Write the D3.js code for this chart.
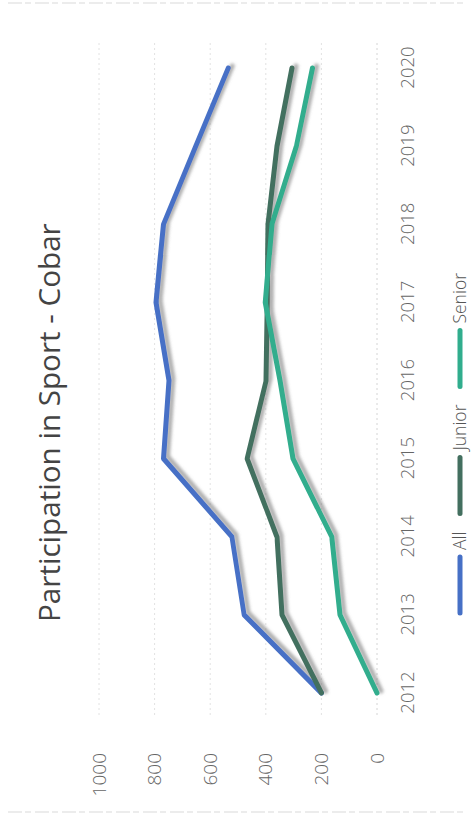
<!DOCTYPE html>
<html>
<head>
<meta charset="utf-8">
<script src="https://cdn.jsdelivr.net/npm/d3@7"></script>
<style>
  html, body { margin: 0; padding: 0; background: #fff; }
  svg { display: block; }
  text { font-family: "Open Sans", "Noto Sans", sans-serif; }
</style>
</head>
<body>
<svg id="chart" width="471" height="815"></svg>
<script>
// Participation counts per year
const years = [2012, 2013, 2014, 2015, 2016, 2017, 2018, 2019, 2020];
const allValues    = [200, 478, 522, 768, 748, 795, 768, 652, 535];
const juniorValues = [200, 342, 360, 467, 399, 395, 392, 360, 306];
const seniorValues = [0, 133, 163, 302, 349, 402, 378, 290, 232];
const seriesNames  = ["All", "Junior", "Senior"];
const seriesColors = ["#4670c6", "#436f5f", "#31ad8d"];
const valueTicks   = [0, 200, 400, 600, 800, 1000];
const titleText    = "Participation in Sport - Cobar";

const series = seriesNames.map((name, i) => ({
  name,
  color: seriesColors[i],
  values: [allValues, juniorValues, seniorValues][i].map((v, j) => ({ year: years[j], value: v }))
}));

const W = 815, H = 471; // chart drawn in its own frame, then turned a quarter turn
const svg = d3.select("#chart");

const defs = svg.append("defs");
const shadow = defs.append("filter").attr("id", "lineShadow")
  .attr("x", "-10%").attr("y", "-10%").attr("width", "120%").attr("height", "120%");
shadow.append("feDropShadow")
  .attr("dx", 2).attr("dy", 4).attr("stdDeviation", 1.8)
  .attr("flood-color", "#6f6f6f").attr("flood-opacity", 0.55);

// page edge dashes
[3, 812].forEach(y => {
  svg.append("line")
    .attr("x1", 8).attr("x2", 466).attr("y1", y).attr("y2", y)
    .attr("stroke", "#dadada").attr("stroke-width", 1.2)
    .attr("stroke-dasharray", "14 3 6 4");
});

const g = svg.append("g").attr("transform", `translate(0,${W}) rotate(-90)`);

const x = d3.scaleLinear().domain([2012, 2020]).range([122, 747]);
const y = d3.scaleLinear().domain([0, 1000]).range([377, 99]);

// gridlines
g.append("g").selectAll("line").data(valueTicks).join("line")
  .attr("x1", 100).attr("x2", 772)
  .attr("y1", d => y(d)).attr("y2", d => y(d))
  .attr("stroke", d => d === 0 ? "#d4d4d4" : "#e2e2e2")
  .attr("stroke-width", 1)
  .attr("stroke-dasharray", "2 3");

// value axis
const yAxis = g.append("g").attr("transform", "translate(62,0)")
  .call(d3.axisLeft(y).tickValues(valueTicks).tickFormat(d3.format("d")).tickSize(0).tickPadding(0));
yAxis.select(".domain").remove();
yAxis.selectAll("text")
  .attr("font-size", 19).attr("font-weight", 300)
  .attr("fill", "#666").style("font-family", '"Open Sans", sans-serif');

// year axis
const xAxis = g.append("g").attr("transform", "translate(0,377)")
  .call(d3.axisBottom(x).tickValues(years).tickFormat(d3.format("d")).tickSize(0).tickPadding(24));
xAxis.select(".domain").remove();
xAxis.selectAll("text")
  .attr("font-size", 18.5).attr("font-weight", 300)
  .attr("fill", "#666").style("font-family", '"Open Sans", sans-serif');

// lines
const line = d3.line().x(d => x(d.year)).y(d => y(d.value));
g.append("g").attr("filter", "url(#lineShadow)")
  .selectAll("path").data(series).join("path")
  .attr("d", d => line(d.values))
  .attr("fill", "none")
  .attr("stroke", d => d.color)
  .attr("stroke-width", 5)
  .attr("stroke-linecap", "round")
  .attr("stroke-linejoin", "round");

// title, sized to its line length
const title = g.append("text")
  .attr("x", 193).attr("y", 60)
  .attr("fill", "#444")
  .attr("font-size", 30)
  .text(titleText);
const tl = title.node().getComputedTextLength();
title.attr("font-size", 30 * 399 / tl);

// legend
const legend = g.append("g").attr("transform", "translate(200,460)");
let lx = 0;
series.forEach(s => {
  legend.append("line")
    .attr("x1", lx + 2).attr("x2", lx + 58).attr("y1", 0).attr("y2", 0)
    .attr("stroke", s.color).attr("stroke-width", 5).attr("stroke-linecap", "round");
  lx += 65;
  const t = legend.append("text")
    .attr("x", lx).attr("y", 0).attr("dy", "0.35em")
    .attr("font-size", 17.5).attr("font-weight", 300)
    .attr("fill", "#555").text(s.name);
  lx += t.node().getComputedTextLength() + 16;
});
</script>
</body>
</html>
